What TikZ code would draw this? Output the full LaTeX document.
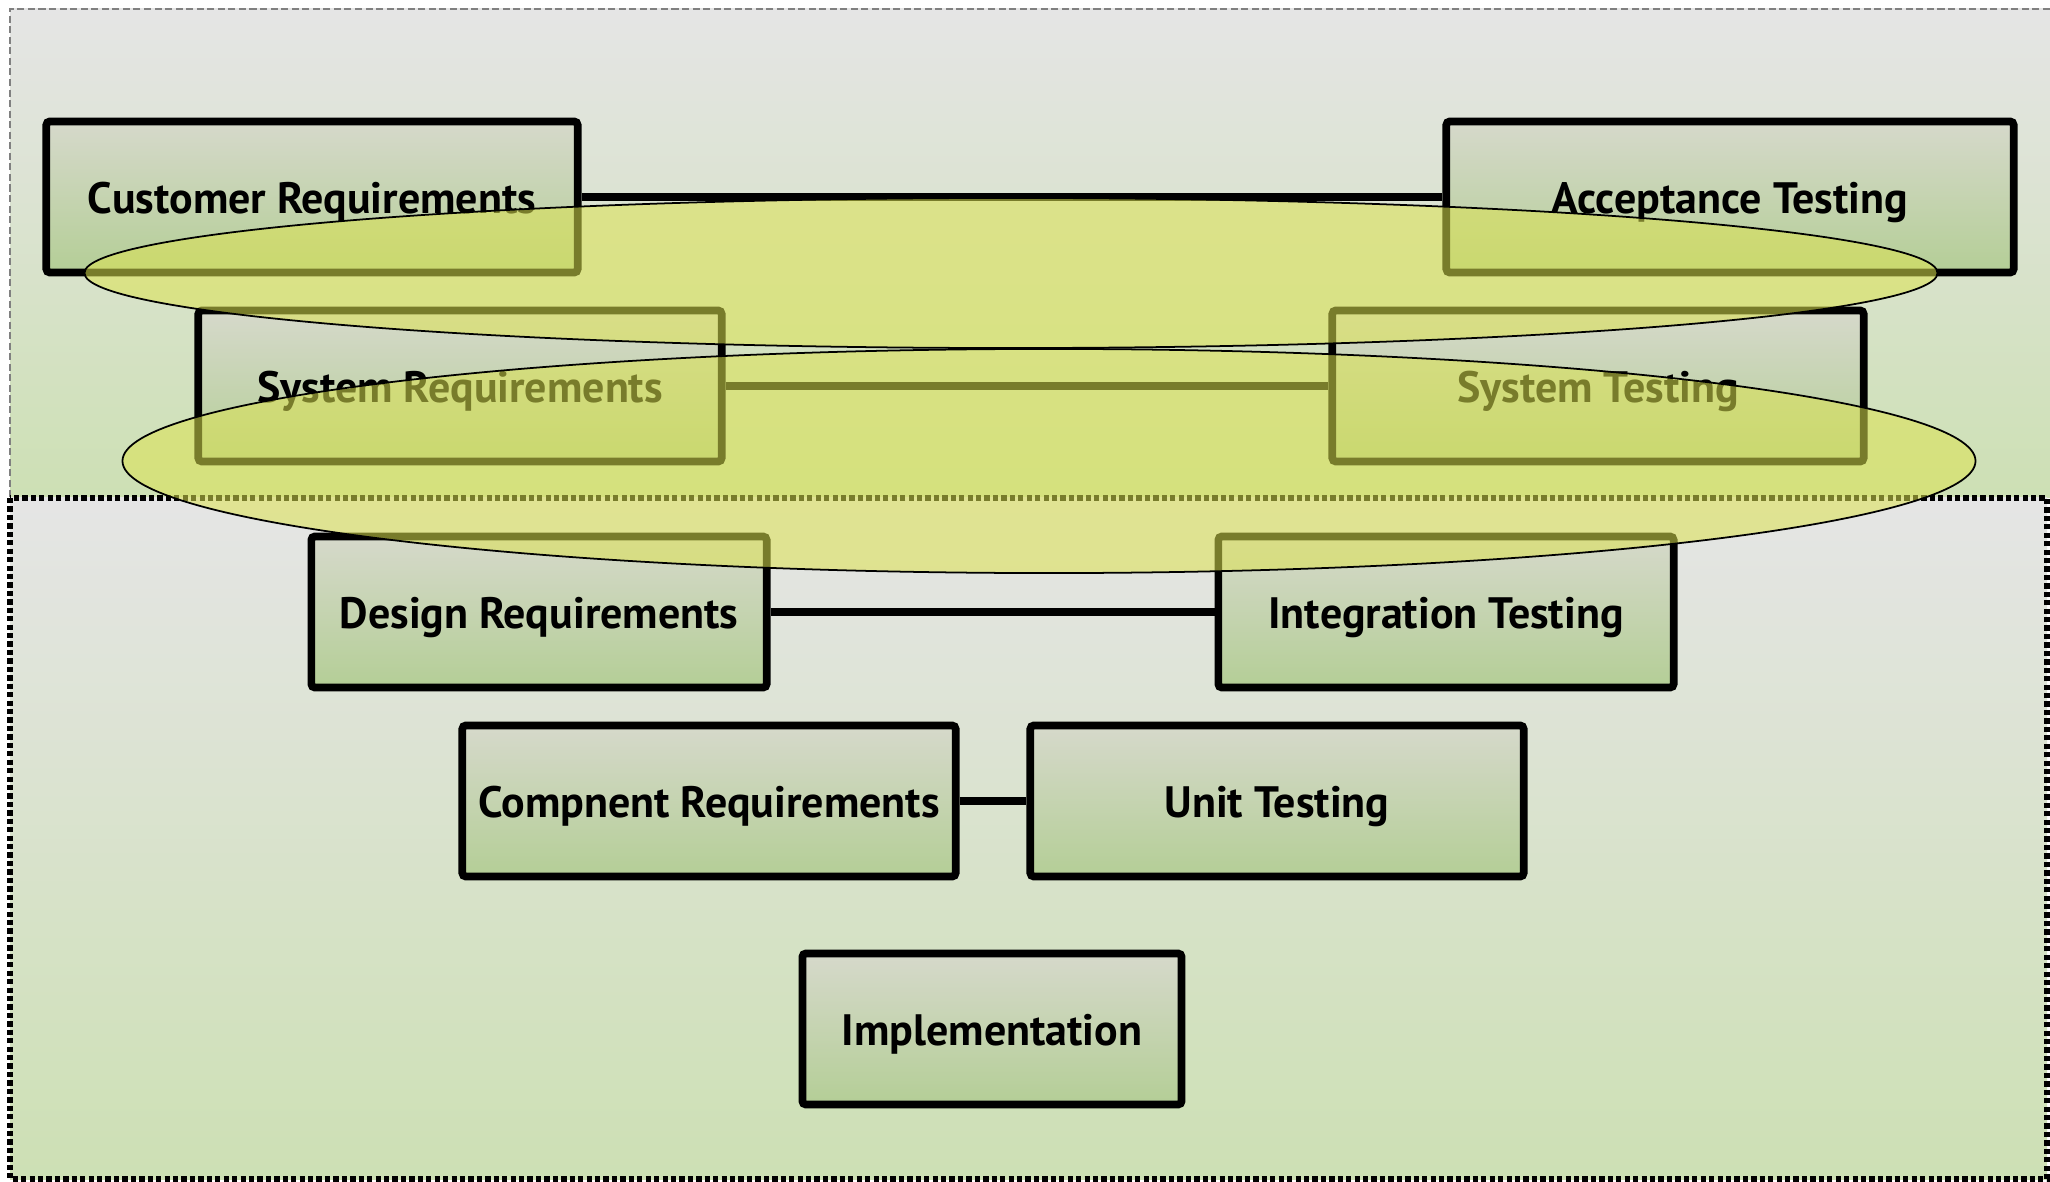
\documentclass[tikz,border=0pt]{standalone}
\usepackage{fontspec}
\setmainfont{PT Sans}
\usepackage{tikz}

\definecolor{boxTop}{RGB}{214,217,203}
\definecolor{boxBot}{RGB}{180,206,150}
\definecolor{bgTop}{RGB}{229,229,229}
\definecolor{bgBot}{RGB}{205,224,180}
\definecolor{scopeFill}{RGB}{220,226,80}

\begin{document}
\begin{tikzpicture}[x=0.01cm,y=-0.01cm,
	every node/.style = {shape=rectangle, rounded corners=1pt, draw, line width=2.2pt, align=center,
		top color=boxTop, bottom color=boxBot, minimum height=1.51cm,
		text height=1.19em, text depth=0.23em,
		font=\fontsize{12.5}{14}\selectfont\bfseries},
	region/.style={top color=bgTop, bottom color=bgBot},
	link/.style={line width=2.2pt},
	scopeRing/.style={draw=black, line width=0.5pt, fill=scopeFill, fill opacity=.55}
	]
 \useasboundingbox (0,0) rectangle (2050,1182);
 % two regions
 \shade[region] (10,9) rectangle (2050,498);
 \draw[gray, line width=0.5pt, dash pattern=on 2pt off 1pt] (2050,9) -- (10,9) -- (10,498);
 \shade[region] (10,498) rectangle (2047,1179);
 \draw[line width=1.6pt, dash pattern=on 1.5pt off 0.9pt] (10,498) rectangle (2047,1179);

 % left arm
 \node[minimum width=5.31cm] (r1) at (312,197) {Customer Requirements};
 \node[minimum width=5.23cm] (r2) at (460,386) {System Requirements};
 \node[minimum width=4.55cm] (r3) at (539,612) {Design Requirements};
 \node[minimum width=4.93cm] (r4) at (709,801) {Compnent Requirements};
 % right arm
 \node[minimum width=5.67cm] (t1) at (1730,197) {Acceptance Testing};
 \node[minimum width=5.31cm] (t2) at (1598,386) {System Testing};
 \node[minimum width=4.55cm] (t3) at (1446,612) {Integration Testing};
 \node[minimum width=4.93cm] (t4) at (1277,801) {Unit Testing};
 \node[minimum width=3.79cm] (impl) at (992,1029) {Implementation};

 \foreach \i in {1,...,4}
   \draw[link] (r\i.east) -- (t\i.west);

 \draw[scopeRing] (1011,273) ellipse [x radius=9.26cm, y radius=0.75cm];
 \draw[scopeRing] (1049,461) ellipse [x radius=9.26cm, y radius=1.12cm];
\end{tikzpicture}
\end{document}
